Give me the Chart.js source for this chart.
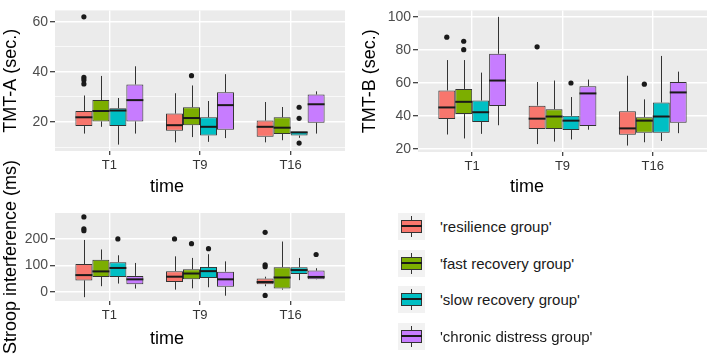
<!DOCTYPE html>
<html>
<head>
<meta charset="utf-8">
<script src="https://cdn.jsdelivr.net/npm/chart.js@4.4.0/dist/chart.umd.min.js"></script>
<style>
  body { margin: 0; background: #fff; width: 709px; height: 355px; overflow: hidden; position: relative;
         font-family: 'Liberation Sans', Arial, sans-serif; }
  .panel { position: absolute; }
  .xtitle { position: absolute; font-size: 18px; color: #000; transform: translate(-50%, -50%); white-space: nowrap; }
  #legend { position: absolute; left: 398px; top: 213px; }
  .item { position: absolute; left: 0; height: 27px; width: 300px; }
  .key { position: absolute; left: 0; top: 0; width: 27px; height: 27px; background: #F2F2F2; }
  .key .wh { position: absolute; left: 13px; top: 3px; width: 1px; height: 21px; background: #333; }
  .key .bx { position: absolute; left: 3px; top: 7px; width: 19px; height: 11px; border: 1px solid #333; }
  .key .md { position: absolute; left: 3px; top: 12px; width: 21px; height: 2px; background: #1a1a1a; }
  .item span { position: absolute; left: 42px; top: 13px; transform: translateY(-50%); font-size: 15px; color: #1a1a1a; white-space: nowrap; }
</style>
</head>
<body>
<div class="panel" style="left:0;top:0"><canvas id="tmtA" width="350" height="200"></canvas></div>
<div class="panel" style="left:355px;top:0"><canvas id="tmtB" width="354" height="200"></canvas></div>
<div class="panel" style="left:0;top:150px"><canvas id="stroop" width="350" height="205"></canvas></div>
<div class="xtitle" style="left:167px;top:186px">time</div>
<div class="xtitle" style="left:527px;top:186px">time</div>
<div class="xtitle" style="left:167px;top:338px">time</div>
<div id="legend"></div>
<script>
var times = ['T1', 'T9', 'T16'];
var groups = ["'resilience group'", "'fast recovery group'", "'slow recovery group'", "'chronic distress group'"];
var colors = ['#F8766D', '#7CAE00', '#00BFC4', '#C77CFF'];

// each group: per time [lower whisker, q1, median, q3, upper whisker]
var tmtA = [
  [[15.4, 18.4, 21.9, 24.4, 30.6], [11.9, 16.5, 18.75, 23.4, 31.5], [11.9, 14.1, 18.1, 20.6, 28]],
  [[18.1, 20.25, 24.4, 28.75, 38.4], [14, 18.75, 21.6, 25.9, 34.6], [12.75, 15.25, 17.75, 21.9, 26]],
  [[11, 18.4, 24.6, 25.5, 29.6], [12.1, 14.6, 18.1, 21.9, 28.4], [13.7, 14.6, 15.9, 16, 16]],
  [[15.4, 20.25, 28.75, 35, 42.25], [13.6, 16.9, 26.75, 31.9, 39.1], [15.4, 19.75, 27.1, 31, 32.25]]
];
var tmtAOut = [
  [[62, 37.8, 36.8, 35.2], [], []],
  [[], [38.5], []],
  [[], [], [25.9, 21.5, 11.6]],
  [[], [], []]
];
var tmtB = [
  [[28.7, 38.1, 45.1, 55.4, 73.8], [22.9, 32, 38.3, 46.2, 60.5], [22, 28.6, 32.4, 42.8, 64.3]],
  [[26.3, 41.1, 48.5, 56.3, 73.8], [24.4, 32, 39.6, 44, 61.4], [24, 29.7, 37.1, 39.2, 50]],
  [[29.1, 36.3, 42.2, 49.3, 66.2], [25.7, 31.4, 37.1, 40, 51.4], [24.8, 29.7, 39.6, 48.1, 76.3]],
  [[34.3, 46, 61.4, 77.6, 100], [31.6, 33.9, 53.6, 58, 62], [29.5, 35.8, 54.2, 60.5, 66.8]]
];
var tmtBOut = [
  [[87.7], [81.8], []],
  [[85.2, 80.1], [], [59.2]],
  [[], [59.9], []],
  [[], [], []]
];
var stroop = [
  [[-19.5, 44, 64, 106, 197], [9, 38, 58, 79, 135], [22, 29, 38, 51, 58]],
  [[22, 57, 78, 122, 161], [14, 48, 70, 86, 129], [9, 13, 55, 94, 191]],
  [[32, 57, 91, 113, 139], [18, 53, 79, 95, 143], [45, 68, 83, 94, 129]],
  [[13, 29, 48, 61, 110], [-14, 19.5, 48, 77, 116], [47, 48, 57, 81, 90]]
];
var stroopOut = [
  [[284, 239, 232], [201], [226, 103, 96, -13]],
  [[], [183], []],
  [[201], [164], []],
  [[], [], [142]]
];
var tmtATicks = [20, 40, 60];
var tmtBTicks = [20, 40, 60, 80, 100];
var stroopTicks = [0, 100, 200];

Chart.defaults.font.family = "'Liberation Sans', Arial, sans-serif";

var boxPlugin = {
  id: 'boxes',
  beforeDraw: function(chart) {
    var a = chart.chartArea, ctx = chart.ctx;
    ctx.save();
    ctx.fillStyle = '#EBEBEB';
    ctx.fillRect(a.left, a.top, a.right - a.left, a.bottom - a.top);
    ctx.restore();
  },
  beforeDatasetsDraw: function(chart) {
    var y = chart.scales.y, ctx = chart.ctx;
    ctx.save();
    ctx.strokeStyle = '#333';
    ctx.lineWidth = 1;
    chart.data.datasets.forEach(function(ds, i) {
      chart.getDatasetMeta(i).data.forEach(function(bar, j) {
        var s = ds.stats[j];
        var x = Math.round(bar.x) + 0.5;
        ctx.beginPath();
        ctx.moveTo(x, y.getPixelForValue(s[0]));
        ctx.lineTo(x, y.getPixelForValue(s[1]));
        ctx.moveTo(x, y.getPixelForValue(s[3]));
        ctx.lineTo(x, y.getPixelForValue(s[4]));
        ctx.stroke();
      });
    });
    ctx.restore();
  },
  afterDatasetsDraw: function(chart) {
    var y = chart.scales.y, ctx = chart.ctx;
    ctx.save();
    chart.data.datasets.forEach(function(ds, i) {
      chart.getDatasetMeta(i).data.forEach(function(bar, j) {
        var s = ds.stats[j];
        var m = y.getPixelForValue(s[2]);
        ctx.strokeStyle = '#1a1a1a';
        ctx.lineWidth = 2;
        ctx.beginPath();
        ctx.moveTo(bar.x - bar.width / 2, m);
        ctx.lineTo(bar.x + bar.width / 2, m);
        ctx.stroke();
        ctx.fillStyle = '#1a1a1a';
        ds.outliers[j].forEach(function(v) {
          ctx.beginPath();
          ctx.arc(bar.x, y.getPixelForValue(v), 2.6, 0, Math.PI * 2);
          ctx.fill();
        });
      });
    });
    ctx.restore();
  }
};

function makeChart(id, stats, outs, title, ticks, min, max, yWidth, xHeight, pad) {
  var half = (ticks[1] - ticks[0]) / 2;
  var isMajor = function(v) { return ticks.indexOf(v) >= 0; };
  return new Chart(document.getElementById(id), {
    type: 'bar',
    data: {
      datasets: groups.map(function(g, i) {
        return {
          label: g,
          data: times.map(function(t, j) { return {x: j + 1, y: [stats[i][j][1], stats[i][j][3]]}; }),
          stats: stats[i],
          outliers: outs[i],
          backgroundColor: colors[i],
          borderColor: '#333',
          borderWidth: 1,
          borderSkipped: false,
          categoryPercentage: 0.75,
          barPercentage: 1
        };
      })
    },
    options: {
      responsive: false,
      animation: false,
      layout: {padding: pad},
      plugins: {legend: {display: false}, tooltip: {enabled: false}},
      scales: {
        x: {
          type: 'linear', min: 0.4, max: 3.6, offset: false,
          afterBuildTicks: function(s) { s.ticks = times.map(function(t, j) { return {value: j + 1}; }); },
          afterFit: function(s) { s.height = xHeight; },
          ticks: {callback: function(v, idx) { return times[idx]; }, font: {size: 13}, color: '#333',
                  padding: 3, autoSkip: false, maxRotation: 0},
          grid: {offset: false, color: '#fff', lineWidth: 1.4, tickLength: 4, tickColor: '#333', tickWidth: 1.2},
          border: {display: false}
        },
        y: {
          min: min, max: max,
          afterBuildTicks: function(s) {
            var list = [];
            for (var v = Math.ceil(min / half) * half; v <= max; v += half) list.push({value: v});
            s.ticks = list;
          },
          afterFit: function(s) { s.width = yWidth; },
          title: {display: true, text: title, font: {size: 18}, color: '#000', padding: {top: pad.titleGap || 0, bottom: 0}},
          ticks: {callback: function(v) { return isMajor(v) ? v : ''; }, font: {size: 14}, color: '#4D4D4D', padding: 2},
          grid: {
            color: '#fff',
            lineWidth: function(c) { return isMajor(c.tick.value) ? 1.4 : 0.7; },
            tickLength: 5,
            tickColor: function(c) { return isMajor(c.tick.value) ? '#333' : 'rgba(0,0,0,0)'; },
            tickWidth: 1.2
          },
          border: {display: false}
        }
      }
    },
    plugins: [boxPlugin]
  });
}

makeChart('tmtA', tmtA, tmtAOut, 'TMT-A (sec.)', tmtATicks, 8.45, 64.55, 55, 49, {left: 0, top: 1, right: 5, bottom: 0});
makeChart('tmtB', tmtB, tmtBOut, 'TMT-B (sec.)', tmtBTicks, 18.1, 103.9, 63, 48, {left: 0, top: 0, right: 2, bottom: 0, titleGap: 4});
makeChart('stroop', stroop, stroopOut, 'Stroop interference (ms)', stroopTicks, -34, 299, 55, 54, {left: 0, top: 63, right: 5, bottom: 0});

// legend
var legend = document.getElementById('legend');
groups.forEach(function(g, i) {
  var item = document.createElement('div');
  item.className = 'item';
  item.style.top = (i * 36.7) + 'px';
  item.innerHTML = '<div class="key"><div class="wh"></div><div class="bx" style="background:' + colors[i] +
    '"></div><div class="md"></div></div><span>' + g + '</span>';
  legend.appendChild(item);
});
</script>
</body>
</html>
